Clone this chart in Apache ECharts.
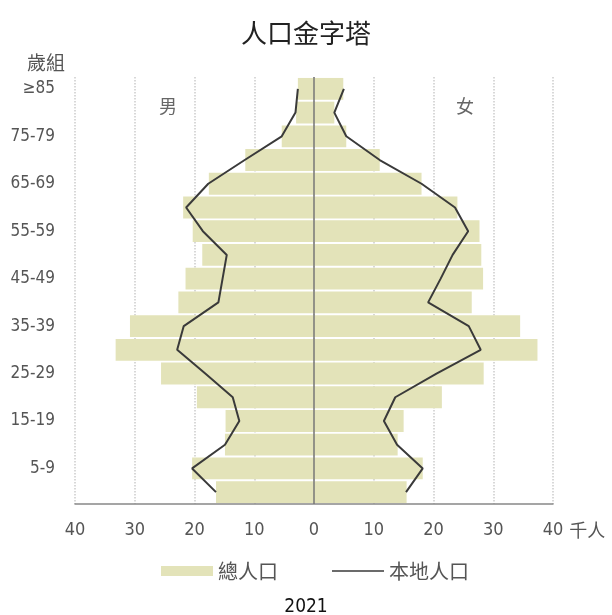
<!DOCTYPE html>
<html>
<head>
<meta charset="utf-8">
<title>人口金字塔</title>
<script src="https://cdn.jsdelivr.net/npm/echarts@6/dist/echarts.min.js"></script>
<style>
    html, body { margin: 0; padding: 0; background: #fff; }
    #chart { width: 612px; height: 615px; }
</style>
</head>
<body>
<div id="chart"></div>
<script>
// age groups, bottom to top
var ageGroups = ['0-4', '5-9', '10-14', '15-19', '20-24', '25-29', '30-34', '35-39', '40-44',
    '45-49', '50-54', '55-59', '60-64', '65-69', '70-74', '75-79', '80-84', '≥85'];

// thousand persons
var maleTotal = [16.4, 20.4, 14.9, 14.8, 19.6, 25.6, 33.2, 30.8, 22.7, 21.5, 18.7, 20.3, 21.9, 17.6, 11.5, 5.4, 3.0, 2.7];
var femaleTotal = [15.5, 18.2, 14.0, 15.0, 21.4, 28.4, 37.4, 34.5, 26.4, 28.3, 28.0, 27.7, 24.0, 18.0, 11.0, 5.4, 3.4, 4.9];
var maleLocal = [16.4, 20.4, 14.9, 12.5, 13.6, 18.2, 22.9, 21.8, 16.0, 15.3, 14.6, 18.6, 21.4, 17.7, 11.6, 5.4, 3.1, 2.7];
var femaleLocal = [15.4, 18.2, 13.9, 11.7, 13.6, 20.5, 27.9, 25.9, 19.1, 21.2, 23.2, 25.8, 23.6, 18.0, 11.0, 5.4, 3.4, 5.0];

var xTicks = [-40, -30, -20, -10, 0, 10, 20, 30, 40];

var FONT = "'DejaVu Sans Condensed', 'Noto Sans CJK TC', sans-serif";
var CJK = "'Noto Sans CJK TC', sans-serif";

// thin line icon for the legend (the extra moves keep the box 10 high)
var LINE_ICON = 'path://M0,0 M0,10 M0,4.2 L52,4.2 L52,5.8 L0,5.8 Z';

function negate(arr) {
    return arr.map(function(v) { return -v; });
}

function showChart() {
    var chart = echarts.init(document.getElementById('chart'));

    var option = {
        textStyle: { fontFamily: FONT },
        title: [{
            text: '人口金字塔',
            left: 'center',
            top: 15,
            textStyle: { fontSize: 26, fontWeight: 'normal', color: '#222', fontFamily: CJK }
        }, {
            text: '歲組',
            left: 22,
            top: 48,
            textStyle: { fontSize: 19, fontWeight: 'normal', color: '#555', fontFamily: CJK }
        }, {
            text: '男',
            left: 154,
            top: 92,
            textStyle: { fontSize: 18, fontWeight: 'normal', color: '#666', fontFamily: CJK }
        }, {
            text: '女',
            left: 451,
            top: 92,
            textStyle: { fontSize: 18, fontWeight: 'normal', color: '#666', fontFamily: CJK }
        }, {
            text: '2021',
            left: 'center',
            top: 593,
            textStyle: { fontSize: 19, fontWeight: 'normal', color: '#111', fontFamily: FONT }
        }],
        legend: {
            top: 556,
            left: 156,
            itemWidth: 52,
            itemHeight: 10,
            itemGap: 54,
            data: [
                { name: '總人口', icon: 'rect' },
                { name: '本地人口', icon: LINE_ICON }
            ],
            textStyle: { fontSize: 20, color: '#555', fontFamily: CJK }
        },
        grid: {
            left: 75,
            right: 59,
            top: 77,
            bottom: 111,
            containLabel: false
        },
        xAxis: {
            type: 'value',
            min: xTicks[0],
            max: xTicks[xTicks.length - 1],
            interval: 10,
            name: '千人',
            nameLocation: 'end',
            nameGap: 12,
            nameTextStyle: { fontSize: 18, color: '#555', fontFamily: CJK, verticalAlign: 'top', padding: [17, 0, 0, 0] },
            axisLine: { show: true, lineStyle: { color: '#888', width: 1.5 } },
            axisTick: { show: false },
            axisLabel: {
                margin: 17,
                fontSize: 18,
                color: '#555',
                formatter: function(v) { return Math.abs(v); }
            },
            splitLine: {
                show: true,
                lineStyle: { type: 'dotted', color: '#ccc', width: 1.5 }
            }
        },
        yAxis: {
            type: 'category',
            data: ageGroups,
            axisLine: { show: false },
            axisTick: { show: false },
            splitLine: { show: false },
            axisLabel: {
                margin: 20,
                fontSize: 17,
                color: '#555',
                interval: function(i) { return i % 2 === 1; }
            }
        },
        series: [{
            name: '總人口',
            type: 'bar',
            stack: 'total',
            barCategoryGap: '8%',
            itemStyle: { color: '#e3e3b9' },
            data: negate(maleTotal),
            markLine: {
                silent: true,
                symbol: 'none',
                label: { show: false },
                lineStyle: { color: '#777', type: 'solid', width: 1.5 },
                data: [{ xAxis: 0 }]
            }
        }, {
            name: '總人口',
            type: 'bar',
            stack: 'total',
            barCategoryGap: '8%',
            itemStyle: { color: '#e3e3b9' },
            data: femaleTotal
        }, {
            name: '本地人口',
            type: 'line',
            symbol: 'none',
            lineStyle: { color: '#3a3a3a', width: 2 },
            itemStyle: { color: '#3a3a3a' },
            z: 5,
            data: negate(maleLocal)
        }, {
            name: '本地人口',
            type: 'line',
            symbol: 'none',
            lineStyle: { color: '#3a3a3a', width: 2 },
            itemStyle: { color: '#3a3a3a' },
            z: 5,
            data: femaleLocal
        }]
    };

    chart.setOption(option);
}

showChart();
</script>
</body>
</html>
